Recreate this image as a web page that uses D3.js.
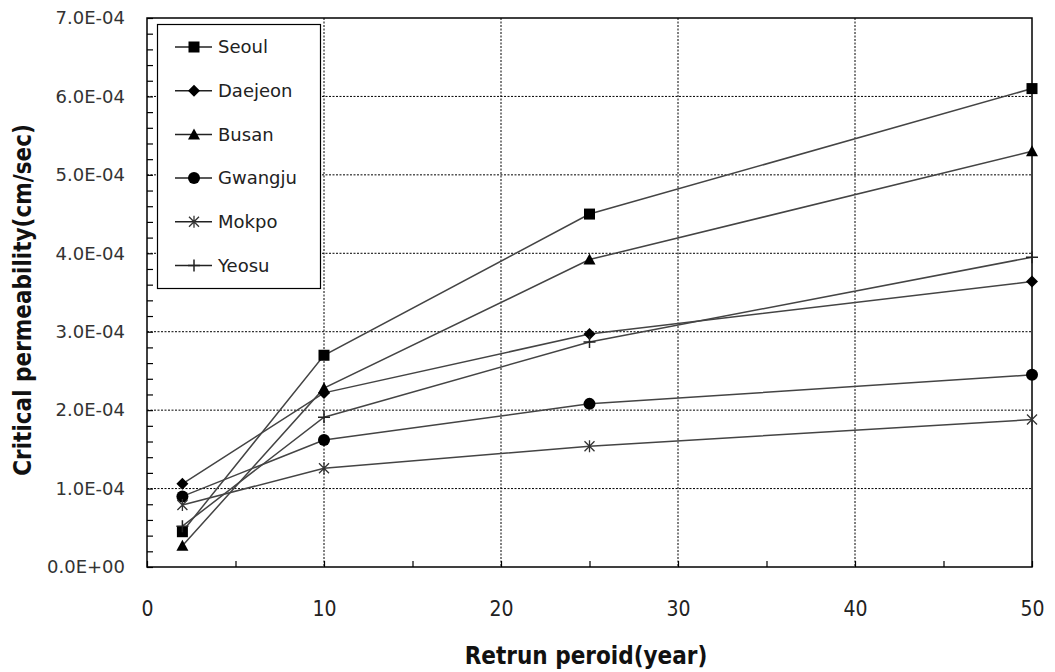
<!DOCTYPE html>
<html>
<head>
<meta charset="utf-8">
<script src="https://d3js.org/d3.v7.min.js"></script>
<style>
  body { margin: 0; background: #fff; }
  svg { display: block; }
</style>
</head>
<body>
<div id="chart"></div>
<script>
// return period (year)
const periods = [2, 10, 25, 50];

// critical permeability (cm/sec)
const seoul   = [0.45e-4, 2.70e-4, 4.50e-4, 6.10e-4];
const daejeon = [1.06e-4, 2.22e-4, 2.97e-4, 3.64e-4];
const busan   = [0.27e-4, 2.28e-4, 3.92e-4, 5.30e-4];
const gwangju = [0.90e-4, 1.62e-4, 2.08e-4, 2.45e-4];
const mokpo   = [0.79e-4, 1.26e-4, 1.54e-4, 1.88e-4];
const yeosu   = [0.52e-4, 1.91e-4, 2.87e-4, 3.95e-4];

const cities  = ['Seoul', 'Daejeon', 'Busan', 'Gwangju', 'Mokpo', 'Yeosu'];
const markers = ['square', 'diamond', 'triangle', 'circle', 'star', 'plus'];

const xTickLabels = [0, 10, 20, 30, 40, 50];
const yTickLabels = [0, 1e-4, 2e-4, 3e-4, 4e-4, 5e-4, 6e-4, 7e-4];

const W = 1055, H = 672;
const plot = { left: 147, right: 1032, top: 18, bottom: 567 };

const series = [seoul, daejeon, busan, gwangju, mokpo, yeosu].map((vals, i) => ({
  name: cities[i],
  marker: markers[i],
  points: periods.map((p, j) => ({ x: p, y: vals[j] }))
}));

const svg = d3.select('#chart').append('svg')
  .attr('width', W)
  .attr('height', H);

svg.append('rect').attr('width', W).attr('height', H).attr('fill', '#fff');

const x = d3.scaleLinear().domain([0, 50]).range([plot.left, plot.right]);
const y = d3.scaleLinear().domain([0, 7e-4]).range([plot.bottom, plot.top]);

// dotted grid
svg.append('g')
  .selectAll('line')
  .data(yTickLabels.slice(1, -1))
  .enter().append('line')
  .attr('x1', plot.left).attr('x2', plot.right)
  .attr('y1', d => y(d)).attr('y2', d => y(d))
  .attr('stroke', '#000').attr('stroke-width', 1)
  .attr('stroke-dasharray', '2,1.5');

svg.append('g')
  .selectAll('line')
  .data(xTickLabels.slice(1, -1))
  .enter().append('line')
  .attr('x1', d => x(d)).attr('x2', d => x(d))
  .attr('y1', plot.top).attr('y2', plot.bottom)
  .attr('stroke', '#000').attr('stroke-width', 1)
  .attr('stroke-dasharray', '2,1.5');

// minor ticks, pointing inwards
const yMinor = d3.range(0, 36).map(i => i * 2e-5);
svg.append('g')
  .attr('transform', `translate(${plot.left},0)`)
  .call(d3.axisRight(y).tickValues(yMinor).tickSize(6).tickFormat(''))
  .call(g => g.select('.domain').remove())
  .selectAll('line').attr('stroke', '#000').attr('stroke-width', 1.2);

svg.append('g')
  .attr('transform', `translate(0,${plot.bottom})`)
  .call(d3.axisTop(x).tickValues(d3.range(0, 51, 5)).tickSize(6).tickFormat(''))
  .call(g => g.select('.domain').remove())
  .selectAll('line').attr('stroke', '#000').attr('stroke-width', 1.2);

// frame
svg.append('rect')
  .attr('x', plot.left).attr('y', plot.top)
  .attr('width', plot.right - plot.left).attr('height', plot.bottom - plot.top)
  .attr('fill', 'none').attr('stroke', '#000').attr('stroke-width', 1.5);

// tick labels
const fmtE = d => {
  if (d === 0) return '0.0E+00';
  const exp = Math.floor(Math.log10(d) + 1e-9);
  const m = d / Math.pow(10, exp);
  return m.toFixed(1) + 'E' + (exp < 0 ? '-' : '+') + String(Math.abs(exp)).padStart(2, '0');
};

svg.append('g')
  .attr('transform', `translate(${plot.left},0)`)
  .call(d3.axisLeft(y).tickValues(yTickLabels).tickSize(0).tickPadding(22).tickFormat(fmtE))
  .call(g => g.select('.domain').remove())
  .selectAll('text')
  .attr('font-family', 'DejaVu Sans')
  .attr('font-size', 18)
  .attr('fill', '#333');

svg.append('g')
  .attr('transform', `translate(0,${plot.bottom})`)
  .call(d3.axisBottom(x).tickValues(xTickLabels).tickSize(0).tickPadding(34).tickFormat(d3.format('d')))
  .call(g => g.select('.domain').remove())
  .selectAll('text')
  .attr('font-family', "'DejaVu Sans Condensed', sans-serif")
  .attr('font-size', 21)
  .attr('fill', '#222');

// axis titles
svg.append('text')
  .attr('x', 586).attr('y', 664)
  .attr('text-anchor', 'middle')
  .attr('font-family', "'DejaVu Sans Condensed', sans-serif")
  .attr('font-weight', 'bold')
  .attr('font-size', 24)
  .attr('fill', '#111')
  .text('Retrun peroid(year)');

svg.append('text')
  .attr('transform', 'translate(31,300) rotate(-90)')
  .attr('text-anchor', 'middle')
  .attr('font-family', "'DejaVu Sans Condensed', sans-serif")
  .attr('font-weight', 'bold')
  .attr('font-size', 24)
  .attr('fill', '#111')
  .text('Critical  permeability(cm/sec)');

// marker shapes
function drawMarker(g, type, cx, cy) {
  if (type === 'square') {
    g.append('rect').attr('x', cx - 5.5).attr('y', cy - 5.5).attr('width', 11).attr('height', 11).attr('fill', '#000');
  } else if (type === 'diamond') {
    g.append('path').attr('d', `M${cx},${cy - 6}L${cx + 6},${cy}L${cx},${cy + 6}L${cx - 6},${cy}Z`).attr('fill', '#000');
  } else if (type === 'triangle') {
    g.append('path').attr('d', `M${cx},${cy - 6}L${cx + 6},${cy + 5}L${cx - 6},${cy + 5}Z`).attr('fill', '#000');
  } else if (type === 'circle') {
    g.append('circle').attr('cx', cx).attr('cy', cy).attr('r', 6).attr('fill', '#000');
  } else if (type === 'star') {
    g.append('path')
      .attr('d', `M${cx - 5},${cy - 5}L${cx + 5},${cy + 5}M${cx - 5},${cy + 5}L${cx + 5},${cy - 5}M${cx},${cy - 6}L${cx},${cy + 6}`)
      .attr('stroke', '#333').attr('stroke-width', 1.3).attr('fill', 'none');
  } else if (type === 'plus') {
    g.append('path')
      .attr('d', `M${cx - 6},${cy}L${cx + 6},${cy}M${cx},${cy - 6}L${cx},${cy + 6}`)
      .attr('stroke', '#222').attr('stroke-width', 1.5).attr('fill', 'none');
  }
}

const line = d3.line().x(d => x(d.x)).y(d => y(d.y));

const seriesG = svg.append('g');
series.forEach(s => {
  seriesG.append('path')
    .datum(s.points)
    .attr('d', line)
    .attr('fill', 'none')
    .attr('stroke', '#444')
    .attr('stroke-width', 1.5);
});
series.forEach(s => {
  const g = seriesG.append('g');
  s.points.forEach(p => drawMarker(g, s.marker, x(p.x), y(p.y)));
});

// legend
const legend = svg.append('g');
legend.append('rect')
  .attr('x', 157.5).attr('y', 24.5)
  .attr('width', 163).attr('height', 264)
  .attr('fill', '#fff').attr('stroke', '#000').attr('stroke-width', 1.2);

series.forEach((s, i) => {
  const ly = 47 + i * 43.7;
  const g = legend.append('g');
  g.append('line')
    .attr('x1', 175).attr('x2', 212)
    .attr('y1', ly).attr('y2', ly)
    .attr('stroke', '#222').attr('stroke-width', 1.5);
  drawMarker(g, s.marker, 194, ly);
  g.append('text')
    .attr('x', 218).attr('y', ly)
    .attr('dy', '0.35em')
    .attr('font-family', 'DejaVu Sans')
    .attr('font-size', 18)
    .attr('fill', '#222')
    .text(s.name);
});
</script>
</body>
</html>
